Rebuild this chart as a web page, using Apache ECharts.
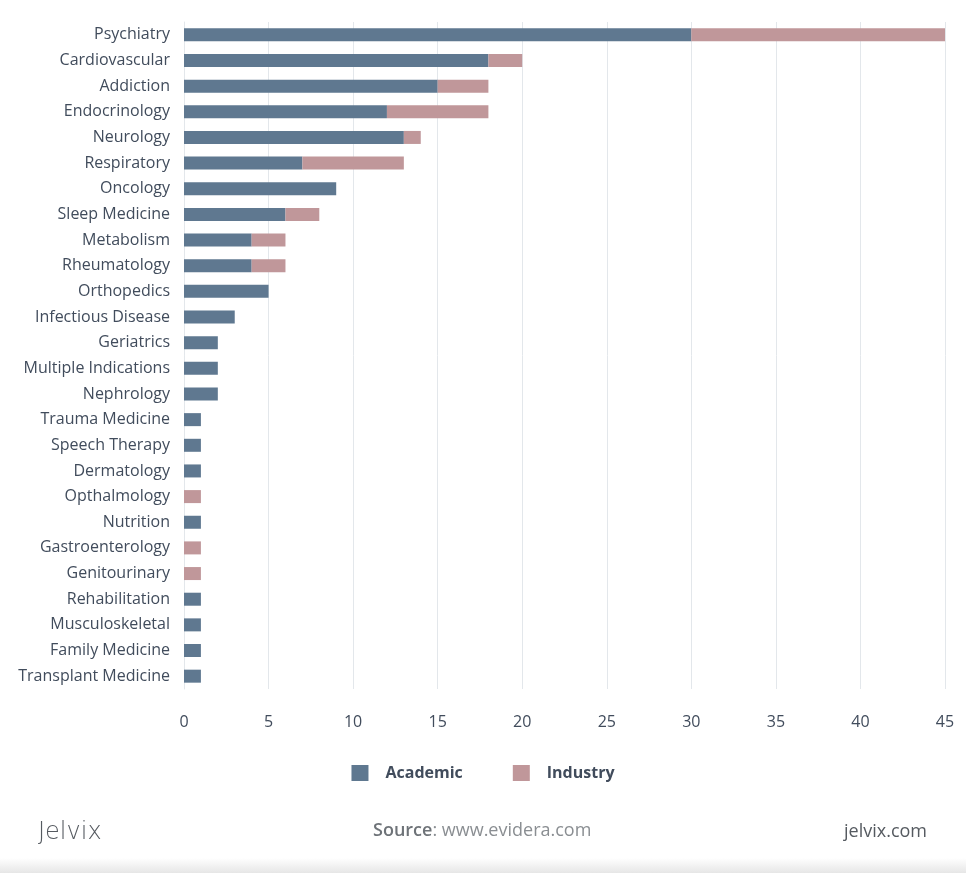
<!DOCTYPE html>
<html><head><meta charset="utf-8">
<script src="https://cdn.jsdelivr.net/npm/echarts@6/dist/echarts.min.js"></script>
<style>html,body{margin:0;padding:0;background:#fff}#c{width:966px;height:873px}</style>
</head><body><div id="c"></div>
<script>
const categories = ["Psychiatry","Cardiovascular","Addiction","Endocrinology","Neurology","Respiratory","Oncology","Sleep Medicine","Metabolism","Rheumatology","Orthopedics","Infectious Disease","Geriatrics","Multiple Indications","Nephrology","Trauma Medicine","Speech Therapy","Dermatology","Opthalmology","Nutrition","Gastroenterology","Genitourinary","Rehabilitation","Musculoskeletal","Family Medicine","Transplant Medicine"];
const academic = [30,18,15,12,13,7,9,6,4,4,5,3,2,2,2,1,1,1,0,1,0,0,1,1,1,1];
const industry = [15,2,3,6,1,6,0,2,2,2,0,0,0,0,0,0,0,0,1,0,1,1,0,0,0,0];
const xTicks = [0,5,10,15,20,25,30,35,40,45];

const font = '"Open Sans", "Noto Sans", sans-serif';
const txt = '#414c5c';
const chart = echarts.init(document.getElementById('c'));
chart.setOption({
  backgroundColor: '#ffffff',
  animation: false,
  grid: {left: 184, right: 21, top: 22, bottom: 873-689, containLabel: false},
  xAxis: {
    type: 'value', min: xTicks[0], max: xTicks[xTicks.length-1], interval: 5,
    axisLine: {show: false}, axisTick: {show: false},
    splitLine: {show: true, lineStyle: {color: '#e3e7eb', width: 1}},
    axisLabel: {color: txt, fontFamily: font, fontSize: 16, fontWeight: 500, margin: 25}
  },
  yAxis: {
    type: 'category', data: categories, inverse: true,
    axisLine: {show: true, lineStyle: {color: '#e3e7eb'}}, axisTick: {show: false},
    axisLabel: {color: txt, fontFamily: font, fontSize: 16, fontWeight: 500, margin: 14}
  },
  legend: {
    bottom: 87, left: 'center', itemWidth: 17, itemHeight: 16, itemGap: 50,
    icon: 'rect',
    textStyle: {color: txt, fontFamily: font, fontSize: 16, fontWeight: 'bold', padding: [0,0,0,12]},
    data: ['Academic','Industry']
  },
  series: [
    {name: 'Academic', type: 'bar', stack: 't', data: academic, barWidth: 13, itemStyle: {color: '#5f7890'}},
    {name: 'Industry', type: 'bar', stack: 't', data: industry, barWidth: 13, itemStyle: {color: '#c0979a'}}
  ],
  graphic: [
    {type: 'rect', left: 0, top: 858, shape: {width: 966, height: 15}, style: {fill: new echarts.graphic.LinearGradient(0,0,0,1,[{offset:0,color:'#ffffff'},{offset:1,color:'#e6e6e6'}])}, silent: true},
    {type: 'text', left: 38, top: 821, style: {text: 'Jelvix', fill: '#555a60', font: '300 24px "DejaVu Sans", sans-serif'}},
    {type: 'text', left: 373, top: 822, style: {rich: {b: {fill: '#6e7378', font: '600 18px ' + font}, n: {fill: '#8a8e92', font: '400 18px ' + font}}, text: '{b|Source}{n|: www.evidera.com}'}},
    {type: 'text', right: 39, top: 823, style: {text: 'jelvix.com', fill: '#555a60', font: '400 18px ' + font}}
  ]
});
</script></body></html>
